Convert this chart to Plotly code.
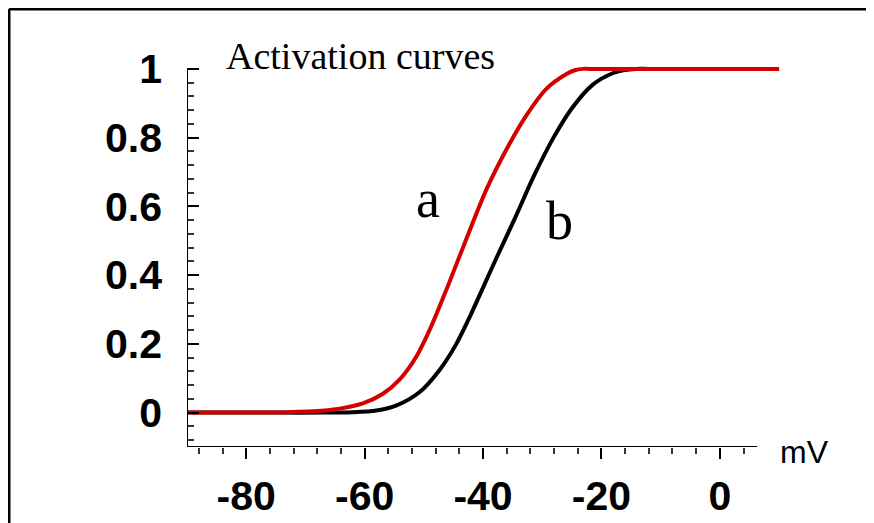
import plotly.graph_objects as go

# ---- data ----
red_x = [-90, -80, -72, -65.9, -60.3, -56.9, -54.1, -51.2, -48.9, -45.9, -42.8, -39.4,
         -36.0, -32.7, -29.3, -25.9, -24.5, -23.1, -22, 0, 10]
red_y = [0, 0, 0.002, 0.0077, 0.027, 0.055, 0.096, 0.165, 0.245, 0.37, 0.506, 0.650,
         0.767, 0.864, 0.942, 0.985, 0.996, 1.0, 1.0, 1.0, 1.0]

black_x = [-90, -75, -66, -62, -58, -54.6, -50.7, -47.3, -44.5, -42.2, -40.3, -37.6,
           -34.6, -31.5, -28.1, -24.8, -21.4, -18.0, -16.3, -14.1, -12, 0, 10]
black_y = [0, 0, 0.0, 0.001, 0.006, 0.021, 0.06, 0.125, 0.2, 0.28, 0.352, 0.455,
           0.566, 0.685, 0.8, 0.89, 0.955, 0.988, 0.996, 1.0, 1.0, 1.0, 1.0]

x_major = [-80, -60, -40, -20, 0]
x_major_text = ["-80", "-60", "-40", "-20", "0"]
x_minor = [v for v in range(-88, 5, 4) if v not in x_major]
y_major = [0, 0.2, 0.4, 0.6, 0.8, 1]
y_major_text = ["0", "0.2", "0.4", "0.6", "0.8", "1"]
y_minor = [round(-0.08 + 0.04 * i, 2) for i in range(27) if round(-0.08 + 0.04 * i, 2) not in y_major]

x_axis_end = 6.3
x_range = [-90, 10.5]
y_range = [-0.1, 1.02]

W, H = 874, 523
OFF = 8  # page offset of the figure inside the browser window
ML, MR, MT, MB = 187 - OFF, W - (782 - OFF), 62 - OFF, H - (449 - OFF)
PW, PH = W - ML - MR, H - MT - MB

def px_to_paper_x(px):
    return (px - OFF - ML) / PW

def py_to_paper_y(py):
    return (H - MB - (py - OFF)) / PH

fig = go.Figure()
fig.add_trace(go.Scatter(x=black_x, y=black_y, mode="lines",
                         line=dict(color="#000000", width=4, shape="spline", smoothing=0.8),
                         showlegend=False, hoverinfo="skip"))
fig.add_trace(go.Scatter(x=red_x, y=red_y, mode="lines",
                         line=dict(color="#d40000", width=4, shape="spline", smoothing=0.8),
                         showlegend=False, hoverinfo="skip"))

tickfont = dict(family="Liberation Sans, Arial", size=41, color="black", weight="bold")

fig.update_xaxes(range=x_range, showline=False, showgrid=False, zeroline=False,
                 tickmode="array", tickvals=x_major, ticktext=x_major_text,
                 ticks="outside", ticklen=11, tickwidth=2, tickcolor="black",
                 tickfont=tickfont, ticklabelstandoff=2,
                 minor=dict(tickmode="array", tickvals=x_minor, ticks="outside",
                            ticklen=6, tickwidth=1.5, tickcolor="#333333", showgrid=False))
fig.update_yaxes(range=y_range, showline=False, showgrid=False, zeroline=False,
                 tickmode="array", tickvals=y_major, ticktext=y_major_text,
                 ticks="inside", ticklen=12, tickwidth=2, tickcolor="black",
                 tickfont=tickfont, ticklabelstandoff=24,
                 minor=dict(tickmode="array", tickvals=y_minor, ticks="inside",
                            ticklen=7, tickwidth=1.5, tickcolor="#333333", showgrid=False))

shapes = [
    # axis lines
    dict(type="line", xref="x", yref="y", x0=x_range[0], x1=x_axis_end, y0=y_range[0], y1=y_range[0],
         line=dict(color="black", width=2)),
    dict(type="line", xref="x", yref="y", x0=x_range[0], x1=x_range[0], y0=y_range[0], y1=1,
         line=dict(color="black", width=2)),
    # outer frame (top and left edges visible)
    dict(type="line", xref="paper", yref="paper",
         x0=px_to_paper_x(9), x1=px_to_paper_x(W + 30),
         y0=py_to_paper_y(OFF + 0.8), y1=py_to_paper_y(OFF + 0.8),
         line=dict(color="black", width=3), layer="above"),
    dict(type="line", xref="paper", yref="paper",
         x0=px_to_paper_x(9), x1=px_to_paper_x(9),
         y0=py_to_paper_y(OFF + 0.8), y1=py_to_paper_y(H + 30),
         line=dict(color="black", width=3), layer="above"),
]

annotations = [
    dict(text="Activation curves", xref="paper", yref="paper",
         x=px_to_paper_x(224), y=py_to_paper_y(56), xanchor="left", yanchor="middle",
         showarrow=False, font=dict(family="Liberation Serif, Times New Roman", size=38, color="black")),
    dict(text="a", xref="paper", yref="paper",
         x=px_to_paper_x(428), y=py_to_paper_y(200), xanchor="center", yanchor="middle",
         showarrow=False, font=dict(family="Liberation Serif, Times New Roman", size=54, color="black")),
    dict(text="b", xref="paper", yref="paper",
         x=px_to_paper_x(559), y=py_to_paper_y(222), xanchor="center", yanchor="middle",
         showarrow=False, font=dict(family="Liberation Serif, Times New Roman", size=54, color="black")),
    dict(text="mV", xref="paper", yref="paper",
         x=px_to_paper_x(778), y=py_to_paper_y(454), xanchor="left", yanchor="middle",
         showarrow=False, font=dict(family="Liberation Sans, Arial", size=32, color="black")),
]

fig.update_layout(width=W, height=H, margin=dict(l=ML, r=MR, t=MT, b=MB),
                  paper_bgcolor="white", plot_bgcolor="white",
                  shapes=shapes, annotations=annotations, showlegend=False)

fig.write_html("out.html")
